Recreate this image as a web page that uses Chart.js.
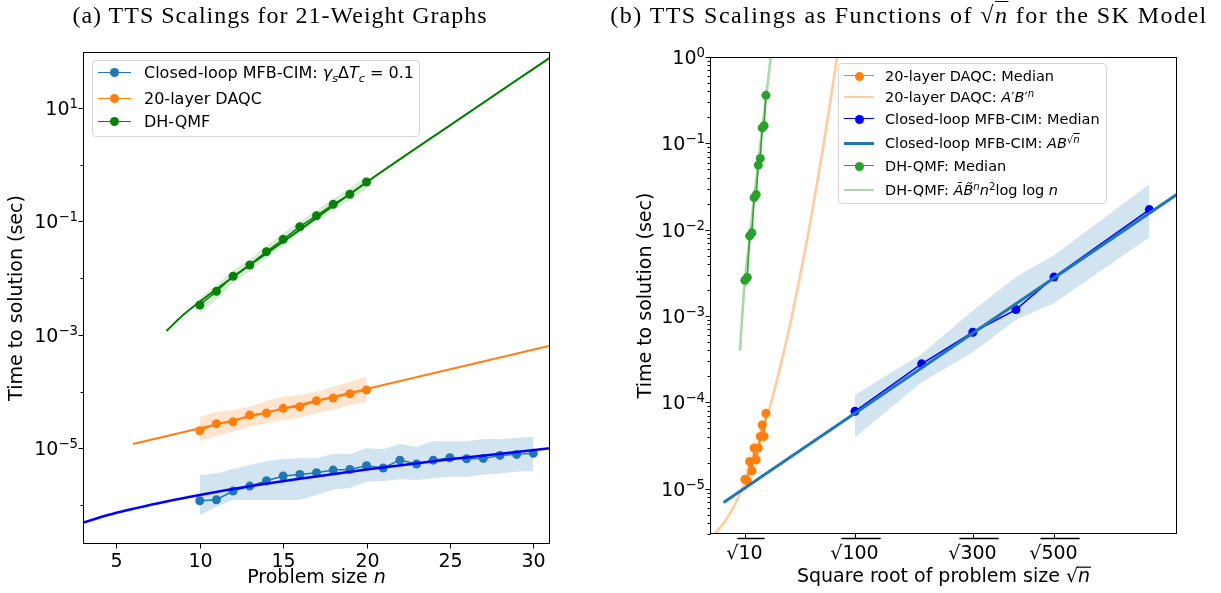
<!DOCTYPE html>
<html>
<head>
<meta charset="utf-8">
<script src="https://cdn.jsdelivr.net/npm/chart.js@4.4.1/dist/chart.umd.min.js"></script>
<style>
html, body { margin: 0; padding: 0; background: #fff; }
body { position: relative; width: 1221px; height: 593px; overflow: hidden; font-family: "DejaVu Sans", sans-serif; color: #000; }
canvas { position: absolute; top: 0; }
#chartA { left: 0; }
#chartB { left: 610px; }
.ttl { position: absolute; top: 3px; transform: translateX(-50%); font-family: "Liberation Serif", serif; font-size: 24px; line-height: 24px; letter-spacing: 1px; white-space: nowrap; }
.ovl { text-decoration: overline; text-decoration-thickness: 1px; }
.lgd { position: absolute; border: 1px solid #d4d4d4; border-radius: 4px; background: rgba(255,255,255,0.8); box-sizing: border-box; }
.row { position: absolute; left: 0; right: 0; height: 20px; display: flex; align-items: center; white-space: nowrap; }
.hd { position: relative; flex: none; height: 20px; }
.hd .ln { position: absolute; left: 0; right: 0; top: 50%; }
.hd .dot { position: absolute; left: 50%; top: 50%; border-radius: 50%; }
.lgd sub, .lgd sup { font-size: 70%; line-height: 0; position: relative; vertical-align: baseline; }
.lgd sub { top: 0.3em; }
.lgd sup { top: -0.5em; }
</style>
</head>
<body>
<canvas id="chartA" width="600" height="593"></canvas>
<canvas id="chartB" width="611" height="593"></canvas>
<div class="ttl" style="left:280px">(a) TTS Scalings for 21-Weight Graphs</div>
<div class="ttl" style="left:909px;letter-spacing:1.45px">(b) TTS Scalings as Functions of √<span class="ovl"><i>n</i></span> for the SK Model</div>
<div id="lgdA" class="lgd" style="left:92px;top:60px;width:328px;height:77px;font-size:16px"></div>
<div id="lgdB" class="lgd" style="left:838px;top:63px;width:269px;height:141px;font-size:14.5px"></div>
<script>
// (a) 21-weight graphs, problem size n
const nA = [10, 11, 12, 13, 14, 15, 16, 17, 18, 19, 20, 21, 22, 23, 24, 25, 26, 27, 28, 29, 30];
const cimMedianA = [1.19e-6, 1.24e-6, 1.77e-6, 2.16e-6, 2.68e-6, 3.25e-6, 3.47e-6, 3.71e-6, 4.14e-6, 4.25e-6, 4.93e-6, 4.5e-6, 6.2e-6, 5.29e-6, 6.2e-6, 6.84e-6, 6.56e-6, 6.65e-6, 7.5e-6, 7.83e-6, 8.16e-6];
const cimUpperA = [3.38e-6, 3.62e-6, 4.31e-6, 5.08e-6, 5.97e-6, 6.48e-6, 6.66e-6, 6.66e-6, 8.03e-6, 7.94e-6, 1.0e-5, 9.6e-6, 1.19e-5, 1.07e-5, 1.33e-5, 1.33e-5, 1.33e-5, 1.46e-5, 1.46e-5, 1.52e-5, 1.6e-5];
const cimLowerA = [6.6e-7, 9.3e-7, 1.23e-6, 1.23e-6, 1.23e-6, 1.23e-6, 1.23e-6, 1.5e-6, 1.89e-6, 2.0e-6, 2.58e-6, 2.65e-6, 2.84e-6, 2.76e-6, 2.96e-6, 3.16e-6, 3.16e-6, 3.43e-6, 3.62e-6, 3.86e-6, 4.03e-6];

const nShortA = [10, 11, 12, 13, 14, 15, 16, 17, 18, 19, 20];
const daqcMedianA = [2.04e-5, 2.72e-5, 2.94e-5, 3.87e-5, 4.19e-5, 5.07e-5, 5.41e-5, 6.9e-5, 7.7e-5, 9.18e-5, 1.07e-4];
const daqcUpperA = [3.61e-5, 4.42e-5, 4.73e-5, 5.41e-5, 6.9e-5, 8.13e-5, 8.7e-5, 9.95e-5, 1.22e-4, 1.49e-4, 1.83e-4];
const daqcLowerA = [1.35e-5, 1.65e-5, 1.96e-5, 2.4e-5, 2.76e-5, 3.16e-5, 3.46e-5, 4.14e-5, 4.73e-5, 5.8e-5, 6.63e-5];
const qmfMedianA = [3.37e-3, 5.86e-3, 1.08e-2, 1.71e-2, 2.93e-2, 4.84e-2, 8.07e-2, 0.126, 0.2, 0.3, 0.495];
const qmfUpperA = [4.47e-3, 7.59e-3, 1.38e-2, 2.14e-2, 3.72e-2, 6.17e-2, 0.1, 0.158, 0.251, 0.38, 0.631];
const qmfLowerA = [2.4e-3, 4.17e-3, 8.3e-3, 1.32e-2, 2.29e-2, 3.72e-2, 6.3e-2, 0.1, 0.158, 0.234, 0.372];

// fitted curves
const cimFitNA = [3, 5, 8, 10, 13, 16, 20, 25, 31];
const cimFitA = [4.9e-7, 7.3e-7, 1.16e-6, 1.51e-6, 2.14e-6, 2.91e-6, 4.22e-6, 6.4e-6, 1.0e-5];
const daqcFitNA = [6, 31];
const daqcFitA = [1.19e-5, 6.44e-4];
const qmfFitNA = [8, 9, 10, 12, 15, 20, 25, 31];
const qmfFitA = [1.17e-3, 2.24e-3, 3.85e-3, 1.05e-2, 4.4e-2, 0.49, 4.95, 77];

// (b) SK model, x axis is sqrt(n)
const nCimB = [100, 200, 300, 400, 500, 800];
const cimMedianB = [7.9e-5, 2.8e-4, 6.5e-4, 1.19e-3, 2.83e-3, 1.71e-2];
const cimUpperB = [1.22e-4, 3.65e-4, 1.16e-3, 2.83e-3, 5.05e-3, 3.36e-2];
const cimLowerB = [3.94e-5, 1.71e-4, 3.81e-4, 9.06e-4, 1.41e-3, 8.2e-3];
const cimFitSB = [1.84, 30];
const cimFitB = [6.93e-6, 2.57e-2];

const nSmallB = [10, 11, 12, 13, 14, 15, 16, 17, 18, 19, 20];
const daqcMedianB = [1.29e-5, 1.24e-5, 2.07e-5, 1.62e-5, 2.97e-5, 2.17e-5, 2.97e-5, 4.05e-5, 5.48e-5, 4.05e-5, 7.48e-5];
const daqcUpperB = [1.75e-5, 1.7e-5, 2.8e-5, 2.2e-5, 4.0e-5, 2.9e-5, 4.0e-5, 5.5e-5, 7.4e-5, 5.5e-5, 1.0e-4];
const daqcLowerB = [9.5e-6, 9.0e-6, 1.5e-5, 1.2e-5, 2.2e-5, 1.6e-5, 2.2e-5, 3.0e-5, 4.0e-5, 3.0e-5, 5.5e-5];
const daqcFitSB = [1.3, 2, 2.5, 3, 3.5, 4, 4.5, 5, 5.5, 6, 6.5, 7, 7.5, 8, 8.5, 9];
const daqcFitB = [3.0e-6, 4.39e-6, 6.34e-6, 9.98e-6, 1.7e-5, 3.15e-5, 6.34e-5, 1.38e-4, 3.28e-4, 8.43e-4, 2.36e-3, 7.16e-3, 2.36e-2, 8.43e-2, 0.327, 1.38];

const qmfMedianB = [2.6e-3, 2.8e-3, 8.5e-3, 9.2e-3, 2.35e-2, 2.55e-2, 5.6e-2, 6.7e-2, 0.151, 0.16, 0.36];
const qmfUpperB = [3.2e-3, 3.4e-3, 1.05e-2, 1.15e-2, 2.9e-2, 3.2e-2, 7.0e-2, 8.3e-2, 0.19, 0.2, 0.45];
const qmfLowerB = [2.1e-3, 2.25e-3, 6.8e-3, 7.4e-3, 1.9e-2, 2.05e-2, 4.5e-2, 5.4e-2, 0.12, 0.13, 0.29];
const qmfFitSB = [2.86, 3.0, 3.162, 3.464, 3.742, 4.0, 4.243, 4.472, 4.8];
const qmfFitB = [4.0e-4, 1.0e-3, 2.5e-3, 7.9e-3, 2.3e-2, 6.0e-2, 0.145, 0.33, 1.1];

// ticks
const xTicksA = [5, 10, 15, 20, 25, 30];
const yTickExpA = [1, -1, -3, -5];
const yMinorExpA = [0, -2, -4, -6];
const xTickNB = [10, 100, 300, 500];
const yTickExpB = [0, -1, -2, -3, -4, -5];

const legendA = [
    'Closed-loop MFB-CIM: <i>γ</i><sub><i>s</i></sub>Δ<i>T</i><sub><i>c</i></sub> = 0.1',
    '20-layer DAQC',
    'DH-QMF'
];
const legendB = [
    '20-layer DAQC: Median',
    '20-layer DAQC: <i>A</i>′<i>B</i>′<sup><i>n</i></sup>',
    'Closed-loop MFB-CIM: Median',
    'Closed-loop MFB-CIM: <i>AB</i><sup>√<span class="ovl"><i>n</i></span></sup>',
    'DH-QMF: Median',
    'DH-QMF: <i>Ã</i><i>B\u0303</i><sup><i>n</i></sup><i>n</i><sup>2</sup>log log <i>n</i>'
];

const C_BLUE = '#1f77b4', C_ORANGE = '#ff7f0e', C_GREEN = '#2ca02c';

const pts = (xs, ys) => xs.map((x, i) => ({x: x, y: ys[i]}));
const sq = ns => ns.map(n => Math.sqrt(n));

function band(xs, lo, hi, color) {
    return [
        {data: pts(xs, lo), borderWidth: 0, pointRadius: 0, fill: false, order: 10, clip: 0},
        {data: pts(xs, hi), borderWidth: 0, pointRadius: 0, fill: '-1', backgroundColor: color, order: 10, clip: 0}
    ];
}
function median(xs, ys, color, order) {
    return {data: pts(xs, ys), borderColor: color, backgroundColor: color, borderWidth: 1.5,
        pointRadius: 4.5, pointBorderWidth: 0, pointBackgroundColor: color, tension: 0, fill: false, order: order || 5, clip: 0};
}
function fit(xs, ys, color, width, order) {
    return {data: pts(xs, ys), borderColor: color, borderWidth: width, pointRadius: 0, fill: false,
        cubicInterpolationMode: 'monotone', order: order, clip: 0};
}

const font = (size, italic) => (italic ? 'italic ' : '') + size + 'px "DejaVu Sans"';

function powLabel(ctx, e, xr, p, size) {
    const base = '10', exp = String(e).replace('-', '\u2212');
    ctx.font = font(size);
    const bw = ctx.measureText(base).width;
    ctx.font = font(size * 0.7);
    const ew = ctx.measureText(exp).width;
    ctx.textAlign = 'left';
    ctx.textBaseline = 'alphabetic';
    const bl = p + size * 0.365;
    ctx.font = font(size);
    ctx.fillText(base, xr - ew - bw, bl);
    ctx.font = font(size * 0.7);
    ctx.fillText(exp, xr - ew, bl - size * 0.37);
}

function pieces(ctx, parts, xc, y, size) {
    let total = 0;
    parts.forEach(pt => { ctx.font = font(size, pt.it); pt.w = ctx.measureText(pt.t).width; total += pt.w; });
    let x = xc - total / 2;
    ctx.textAlign = 'left';
    ctx.textBaseline = 'alphabetic';
    parts.forEach(pt => {
        ctx.font = font(size, pt.it);
        ctx.fillText(pt.t, x, y);
        if (pt.bar) {
            ctx.lineWidth = 1.2;
            ctx.beginPath();
            ctx.moveTo(x - 1, y - size * 0.78);
            ctx.lineTo(x + pt.w + 1, y - size * 0.78);
            ctx.stroke();
        }
        x += pt.w;
    });
}

function decor(spec) {
    return {
        id: 'decor' + spec.name,
        afterDraw(chart) {
            const ctx = chart.ctx, a = chart.chartArea;
            const sx = chart.scales.x, sy = chart.scales.y;
            const L = Math.round(a.left) + 0.5, R = Math.round(a.right) - 0.5;
            const T = Math.round(a.top) + 0.5, B = Math.round(a.bottom) - 0.5;
            const seg = (x1, y1, x2, y2) => { ctx.beginPath(); ctx.moveTo(x1, y1); ctx.lineTo(x2, y2); ctx.stroke(); };
            ctx.save();
            ctx.strokeStyle = '#000';
            ctx.fillStyle = '#000';
            ctx.lineWidth = 1;
            ctx.strokeRect(L, T, R - L, B - T);

            spec.yExp.forEach(e => {
                const p = Math.round(sy.getPixelForValue(Math.pow(10, e))) + 0.5;
                seg(L - 5, p, L, p);
                powLabel(ctx, e, spec.yLabelRight, p, spec.size);
            });
            spec.yMinor.forEach(v => {
                if (v < sy.min || v > sy.max) return;
                const p = Math.round(sy.getPixelForValue(v)) + 0.5;
                seg(L - 3, p, L, p);
            });
            spec.xTicks.forEach((v, i) => {
                const p = Math.round(sx.getPixelForValue(v)) + 0.5;
                seg(p, B, p, B + 5);
                spec.xLabel(ctx, spec.xTickText[i], p);
            });

            pieces(ctx, spec.xTitle, (a.left + a.right) / 2, spec.xTitleY, spec.size);
            ctx.save();
            ctx.translate(spec.yTitleX, (a.top + a.bottom) / 2);
            ctx.rotate(-Math.PI / 2);
            ctx.font = font(spec.size);
            ctx.textAlign = 'center';
            ctx.textBaseline = 'middle';
            ctx.fillText('Time to solution (sec)', 0, 0);
            ctx.restore();
            ctx.restore();
        }
    };
}

function baseOptions(pad, xw, yh, xmin, xmax, ymin, ymax) {
    return {
        responsive: false,
        animation: false,
        events: [],
        layout: {padding: pad},
        plugins: {legend: {display: false}, tooltip: {enabled: false}},
        scales: {
            x: {type: 'linear', min: xmin, max: xmax, ticks: {display: false}, grid: {display: false}, border: {display: false},
                afterFit: s => { s.height = yh; }},
            y: {type: 'logarithmic', min: ymin, max: ymax, ticks: {display: false}, grid: {display: false}, border: {display: false},
                afterFit: s => { s.width = xw; }}
        }
    };
}

// panel (a)
new Chart(document.getElementById('chartA').getContext('2d'), {
    type: 'line',
    data: {
        datasets: [
            ...band(nA, cimLowerA, cimUpperA, 'rgba(31,119,180,0.2)'),
            ...band(nShortA, daqcLowerA, daqcUpperA, 'rgba(255,127,14,0.2)'),
            ...band(nShortA, qmfLowerA, qmfUpperA, 'rgba(44,160,44,0.2)'),
            median(nA, cimMedianA, C_BLUE),
            median(nShortA, daqcMedianA, C_ORANGE),
            median(nShortA, qmfMedianA, '#0a800a'),
            fit(cimFitNA, cimFitA, '#0000ff', 2.5, 1),
            fit(daqcFitNA, daqcFitA, C_ORANGE, 2, 1),
            fit(qmfFitNA, qmfFitA, '#008000', 2, 1)
        ]
    },
    options: baseOptions({left: 0, top: 52, right: 50, bottom: 0}, 83, 49, 3, 31, 2.06e-7, 97),
    plugins: [decor({
        name: 'A', size: 19,
        yExp: yTickExpA, yMinor: yMinorExpA.map(e => Math.pow(10, e)), yLabelRight: 78,
        xTicks: xTicksA, xTickText: xTicksA.map(String),
        xLabel: (ctx, t, p) => {
            ctx.font = font(19);
            ctx.textAlign = 'center';
            ctx.textBaseline = 'alphabetic';
            ctx.fillText(t, p, 567);
        },
        xTitle: [{t: 'Problem size '}, {t: 'n', it: true}], xTitleY: 583,
        yTitleX: 17
    })]
});

// panel (b)
const minorB = [];
for (let d = -6; d < 0; d++) for (let m = 2; m < 10; m++) minorB.push(m * Math.pow(10, d));

new Chart(document.getElementById('chartB').getContext('2d'), {
    type: 'line',
    data: {
        datasets: [
            ...band(sq(nCimB), cimLowerB, cimUpperB, 'rgba(31,119,180,0.2)'),
            ...band(sq(nSmallB), daqcLowerB, daqcUpperB, 'rgba(255,127,14,0.2)'),
            ...band(sq(nSmallB), qmfLowerB, qmfUpperB, 'rgba(44,160,44,0.2)'),
            fit(daqcFitSB, daqcFitB, 'rgba(255,127,14,0.4)', 2.7, 7),
            fit(qmfFitSB, qmfFitB, 'rgba(44,160,44,0.4)', 2.7, 7),
            median(sq(nSmallB), daqcMedianB, C_ORANGE),
            median(sq(nSmallB), qmfMedianB, C_GREEN),
            median(sq(nCimB), cimMedianB, '#0000ff'),
            fit(cimFitSB, cimFitB, C_BLUE, 3, 1)
        ]
    },
    options: baseOptions({left: 0, top: 57, right: 44, bottom: 0}, 100, 59, 1, 30, 3.0e-6, 1),
    plugins: [decor({
        name: 'B', size: 19,
        yExp: yTickExpB, yMinor: minorB, yLabelRight: 95,
        xTicks: sq(xTickNB), xTickText: xTickNB.map(String),
        xLabel: (ctx, t, p) => {
            ctx.font = font(19);
            const rw = ctx.measureText('\u221a').width, nw = ctx.measureText(t).width;
            const x0 = p - (rw + nw + 2) / 2;
            ctx.textAlign = 'left';
            ctx.textBaseline = 'alphabetic';
            ctx.fillText('\u221a', x0, 559);
            ctx.fillText(t, x0 + rw, 559);
            ctx.lineWidth = 1.5;
            ctx.beginPath();
            ctx.moveTo(x0 + rw - 1, 538.5);
            ctx.lineTo(x0 + rw + nw + 2, 538.5);
            ctx.stroke();
            ctx.lineWidth = 1;
        },
        xTitle: [{t: 'Square root of problem size '}, {t: '\u221a'}, {t: 'n', it: true, bar: true}], xTitleY: 582,
        yTitleX: 36
    })]
});

// legends
function buildLegend(id, labels, handles, geo) {
    const box = document.getElementById(id);
    labels.forEach((label, i) => {
        const h = handles[i];
        const row = document.createElement('div');
        row.className = 'row';
        row.style.top = (geo.centers[i] - 11) + 'px';
        row.style.paddingLeft = geo.hx + 'px';
        const hd = document.createElement('span');
        hd.className = 'hd';
        hd.style.width = geo.hw + 'px';
        hd.style.marginRight = geo.gap + 'px';
        const ln = document.createElement('span');
        ln.className = 'ln';
        ln.style.borderTop = h.lw + 'px solid ' + h.color;
        ln.style.marginTop = (-h.lw / 2) + 'px';
        hd.appendChild(ln);
        if (h.dot) {
            const d = document.createElement('span');
            d.className = 'dot';
            d.style.width = d.style.height = (2 * h.dot) + 'px';
            d.style.margin = (-h.dot) + 'px 0 0 ' + (-h.dot) + 'px';
            d.style.background = h.color;
            hd.appendChild(d);
        }
        const tx = document.createElement('span');
        tx.innerHTML = label;
        row.appendChild(hd);
        row.appendChild(tx);
        box.appendChild(row);
    });
}

buildLegend('lgdA', legendA, [
    {color: C_BLUE, lw: 1.5, dot: 4.5},
    {color: C_ORANGE, lw: 1.5, dot: 4.5},
    {color: '#0a800a', lw: 1.5, dot: 4.5}
], {centers: [12.7, 38.3, 61.7], hx: 5, hw: 33, gap: 13});

buildLegend('lgdB', legendB, [
    {color: C_ORANGE, lw: 1.5, dot: 4.5},
    {color: 'rgba(255,127,14,0.4)', lw: 2.7},
    {color: '#0000ff', lw: 1.5, dot: 4.5},
    {color: C_BLUE, lw: 3},
    {color: C_GREEN, lw: 1.5, dot: 4.5},
    {color: 'rgba(44,160,44,0.4)', lw: 2.7}
], {centers: [13, 34, 56, 80, 103, 127], hx: 5, hw: 30, gap: 11});
</script>
</body>
</html>
